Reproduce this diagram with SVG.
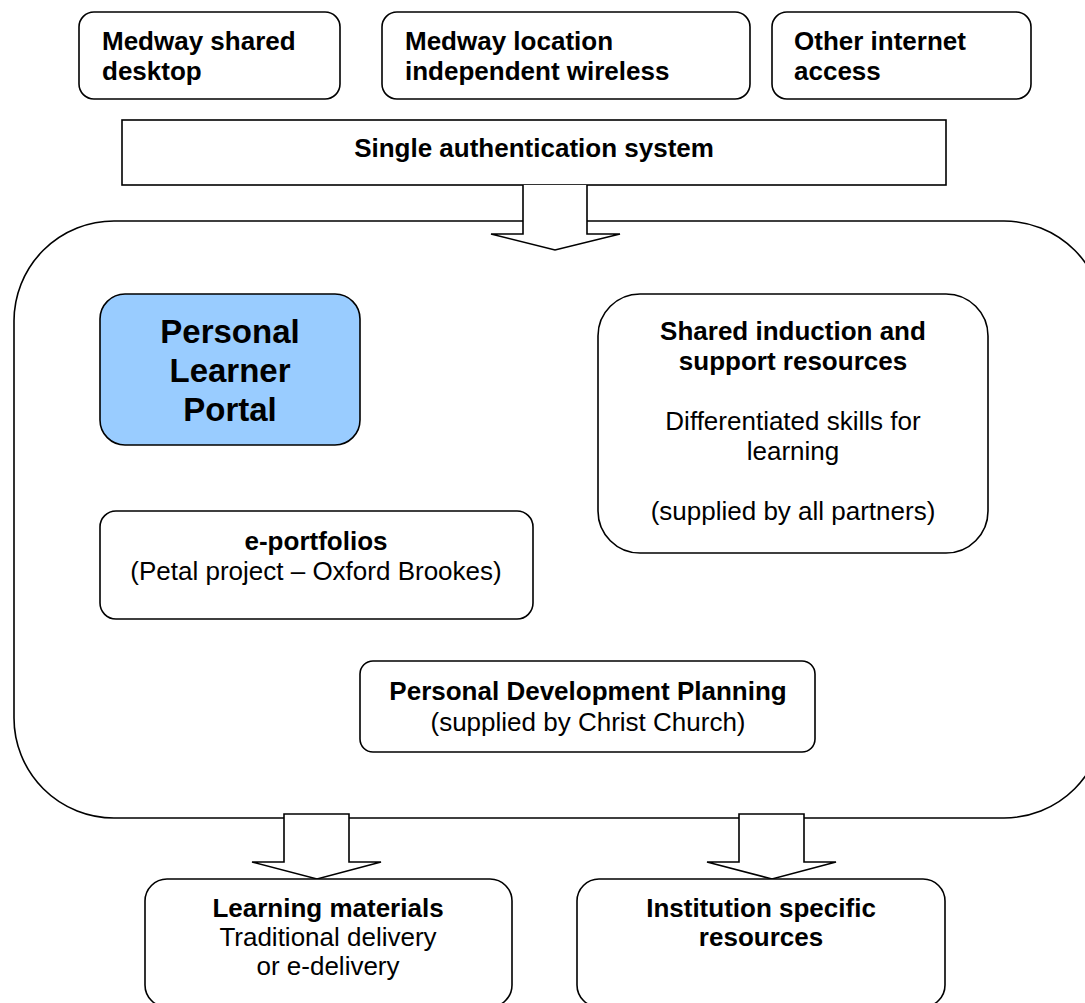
<svg xmlns="http://www.w3.org/2000/svg" width="1085" height="1003" viewBox="0 0 1085 1003">
<style>
.box{fill:#fff;stroke:#000;stroke-width:1.6}
.arrow{fill:#fff;stroke:#000;stroke-width:1.6;stroke-linejoin:miter}
text{font-family:"Liberation Sans",Arial,sans-serif;font-size:26px;fill:#000}
.b{font-weight:bold}
.c{text-anchor:middle}
.big{font-size:33px;font-weight:bold}
</style>
<rect width="1085" height="1003" fill="#fff"/>
<g id="auth">
<rect class="box" x="122" y="120" width="824" height="65"/>
<text class="b c" x="534" y="157">Single authentication system</text>
</g>
<g id="container">
<rect class="box" x="14" y="221" width="1090" height="597" rx="100" ry="100"/>
</g>
<g id="connectors">
<path class="arrow" d="M523,185 V234 H491 L555,250 L620,234 H587 V185"/>
<path class="arrow" d="M284,814 H349 V862 H381 L317,879 L252,862 H284 Z"/>
<path class="arrow" d="M739,814 H804 V862 H836 L772,879 L707,862 H739 Z"/>
</g>
<g id="desktop">
<rect class="box" x="79" y="12" width="261" height="87" rx="15"/>
<text class="b" x="102" y="50">Medway shared</text>
<text class="b" x="102" y="80">desktop</text>
</g>
<g id="wireless">
<rect class="box" x="382" y="12" width="368" height="87" rx="15"/>
<text class="b" x="405" y="50">Medway location</text>
<text class="b" x="405" y="80">independent wireless</text>
</g>
<g id="internet">
<rect class="box" x="772" y="12" width="259" height="87" rx="15"/>
<text class="b" x="794" y="50">Other internet</text>
<text class="b" x="794" y="80">access</text>
</g>
<g id="portal">
<rect x="100" y="294" width="260" height="151" rx="25" fill="#99CCFF" stroke="#000" stroke-width="1.6"/>
<text class="big c" x="230" y="343">Personal</text>
<text class="big c" x="230" y="382">Learner</text>
<text class="big c" x="230" y="421">Portal</text>
</g>
<g id="induction">
<rect class="box" x="598" y="294" width="390" height="259" rx="42"/>
<text class="b c" x="793" y="340">Shared induction and</text>
<text class="b c" x="793" y="370">support resources</text>
<text class="c" x="793" y="430">Differentiated skills for</text>
<text class="c" x="793" y="460">learning</text>
<text class="c" x="793" y="520">(supplied by all partners)</text>
</g>
<g id="eportfolios">
<rect class="box" x="100" y="511" width="433" height="108" rx="16"/>
<text class="b c" x="316" y="550">e-portfolios</text>
<text class="c" x="316" y="580">(Petal project – Oxford Brookes)</text>
</g>
<g id="pdp">
<rect class="box" x="360" y="661" width="455" height="91" rx="13"/>
<text class="b c" x="588" y="700">Personal Development Planning</text>
<text class="c" x="588" y="731">(supplied by Christ Church)</text>
</g>
<g id="learning">
<rect class="box" x="145" y="879" width="367" height="128" rx="22"/>
<text class="b c" x="328" y="917">Learning materials</text>
<text class="c" x="328" y="946">Traditional delivery</text>
<text class="c" x="328" y="975">or e-delivery</text>
</g>
<g id="institution">
<rect class="box" x="577" y="879" width="368" height="128" rx="22"/>
<text class="b c" x="761" y="917">Institution specific</text>
<text class="b c" x="761" y="946">resources</text>
</g>
</svg>
